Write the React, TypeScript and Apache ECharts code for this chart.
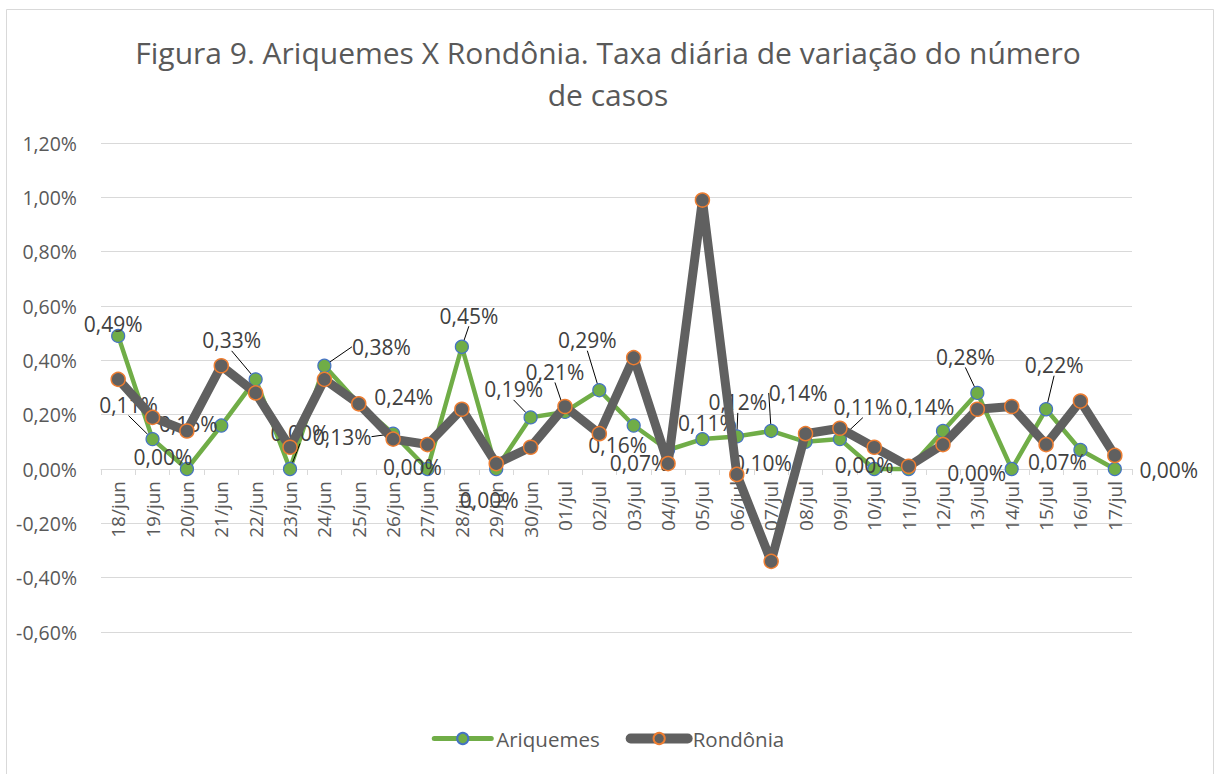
import React, { useEffect, useRef } from "react";
import * as echarts from "echarts";

const categories = [
  "18/jun", "19/jun", "20/jun", "21/jun", "22/jun", "23/jun", "24/jun", "25/jun", "26/jun", "27/jun",
  "28/jun", "29/jun", "30/jun", "01/jul", "02/jul", "03/jul", "04/jul", "05/jul", "06/jul", "07/jul",
  "08/jul", "09/jul", "10/jul", "11/jul", "12/jul", "13/jul", "14/jul", "15/jul", "16/jul", "17/jul",
];

// values in percent
const ariquemes = [
  0.49, 0.11, 0.0, 0.16, 0.33, 0.0, 0.38, 0.24, 0.13, 0.0,
  0.45, 0.0, 0.19, 0.21, 0.29, 0.16, 0.07, 0.11, 0.12, 0.14,
  0.10, 0.11, 0.0, 0.0, 0.14, 0.28, 0.0, 0.22, 0.07, 0.0,
];

const rondonia = [
  0.33, 0.19, 0.14, 0.38, 0.28, 0.08, 0.33, 0.24, 0.11, 0.09,
  0.22, 0.02, 0.08, 0.23, 0.13, 0.41, 0.02, 0.99, -0.02, -0.34,
  0.13, 0.15, 0.08, 0.01, 0.09, 0.22, 0.23, 0.09, 0.25, 0.05,
];

const yTicks = { min: -0.6, max: 1.2, interval: 0.2 };

// label placement (layout only): offset of each label centre from its point, in px
const labelOffsets: [number, number][] = [
  [-5, -12], [-24, -34], [-24, -12], [-33, -2], [-24, -39], [10, -36], [57, -19], [45, -7], [-51, 3], [-15, -2],
  [7, -31], [-7, 31], [-17, -28], [-10, -40], [-12, -50], [-16, 19], [-29, 13], [5, -16], [1, -34], [27, -38],
  [-43, 21], [23, -32], [-10, -4], [0, 0], [-18, -24], [-12, -36], [-35, 4], [8, -44], [-23, 12], [54, 1],
];
const leaderIdx = [1, 4, 5, 6, 8, 10, 12, 13, 14, 18, 19, 21, 25, 27];
const hiddenLabelIdx = [23];

const GRID = { left: 101, right: 84, top: 143, bottom: 142 };
const FONT = "'Open Sans', 'Noto Sans', sans-serif";
const fmt = (v: number) => `${v.toFixed(2).replace(".", ",")}%`;

export default function App() {
  const ref = useRef<HTMLDivElement>(null);

  useEffect(() => {
    if (!ref.current) return;
    const chart = echarts.init(ref.current, null, { renderer: "svg" });
    const plotH = 774 - GRID.top - GRID.bottom;
    const zeroOffset = -((0 - yTicks.min) / (yTicks.max - yTicks.min)) * plotH;
    chart.setOption({
      animation: false,
      backgroundColor: "#ffffff",
      textStyle: { fontFamily: FONT },
      title: {
        text: "Figura 9. Ariquemes X Rondônia. Taxa diária de variação do número\nde casos",
        left: "center",
        top: 26,
        textStyle: {
          fontFamily: FONT,
          fontSize: 30,
          fontWeight: "normal",
          color: "#595959",
          lineHeight: 42,
        },
      },
      graphic: [
        {
          type: "rect",
          shape: { x: 6.5, y: 9.5, width: 1207, height: 790 },
          style: { fill: "none", stroke: "#d9d9d9", lineWidth: 1 },
          silent: true,
          z: -10,
        },
      ],
      legend: {
        bottom: 20,
        left: "center",
        itemWidth: 57,
        itemHeight: 14,
        itemGap: 26,
        textStyle: { fontFamily: FONT, fontSize: 20.5, color: "#595959" },
        data: [
          { name: "Ariquemes", lineStyle: { width: 5, cap: "round" } },
          { name: "Rondônia", lineStyle: { width: 10, cap: "round" } },
        ],
      },
      grid: GRID,
      xAxis: {
        type: "category",
        data: categories,
        boundaryGap: true,
        offset: zeroOffset,
        axisLine: { onZero: false, lineStyle: { color: "#d9d9d9", width: 1 } },
        axisTick: { show: true, interval: 0, length: 6, lineStyle: { color: "#d9d9d9" } },
        axisLabel: {
          interval: 0,
          rotate: 90,
          margin: 12,
          fontFamily: FONT,
          fontSize: 19,
          color: "#595959",
        },
      },
      yAxis: {
        type: "value",
        min: yTicks.min,
        max: yTicks.max,
        interval: yTicks.interval,
        axisLine: { show: false },
        axisTick: { show: false },
        splitLine: { lineStyle: { color: "#d9d9d9", width: 1 } },
        axisLabel: {
          margin: 24,
          fontFamily: FONT,
          fontSize: 19.5,
          color: "#595959",
          formatter: (v: number) => fmt(v),
        },
      },
      series: [
        {
          name: "Ariquemes",
          type: "line",
          z: 2,
          data: ariquemes.map((v, i) => ({
            value: v,
            label: hiddenLabelIdx.includes(i) ? { show: false } : undefined,
            labelLine: { show: leaderIdx.includes(i) },
          })),
          symbol: "circle",
          symbolSize: 13,
          showAllSymbol: true,
          lineStyle: { color: "#70AD47", width: 4.5 },
          itemStyle: { color: "#70AD47", borderColor: "#4472C4", borderWidth: 1.2 },
          label: {
            show: true,
            position: "top",
            fontFamily: FONT,
            fontSize: 21,
            color: "#404040",
            formatter: (p: any) => fmt(p.value),
          },
          labelLine: { show: false, lineStyle: { color: "#000000", width: 1 } },
          labelLayout: (params: any) => {
            const r = params.rect;
            const cx = r.x + r.width / 2;
            const cy = r.y + r.height / 2;
            const off = labelOffsets[params.dataIndex] || [0, 0];
            return {
              x: cx + off[0],
              y: cy + off[1],
              align: "center",
              verticalAlign: "middle",
            };
          },
          emphasis: { disabled: true },
        },
        {
          name: "Rondônia",
          type: "line",
          z: 3,
          data: rondonia,
          symbol: "circle",
          symbolSize: 14,
          showAllSymbol: true,
          lineStyle: { color: "#606060", width: 9 },
          itemStyle: { color: "#606060", borderColor: "#ED7D31", borderWidth: 1.5 },
          emphasis: { disabled: true },
        },
      ],
    });
    return () => chart.dispose();
  }, []);

  return (
    <div
      ref={ref}
      style={{ position: "absolute", left: 0, top: 0, width: 1216, height: 774 }}
    />
  );
}
